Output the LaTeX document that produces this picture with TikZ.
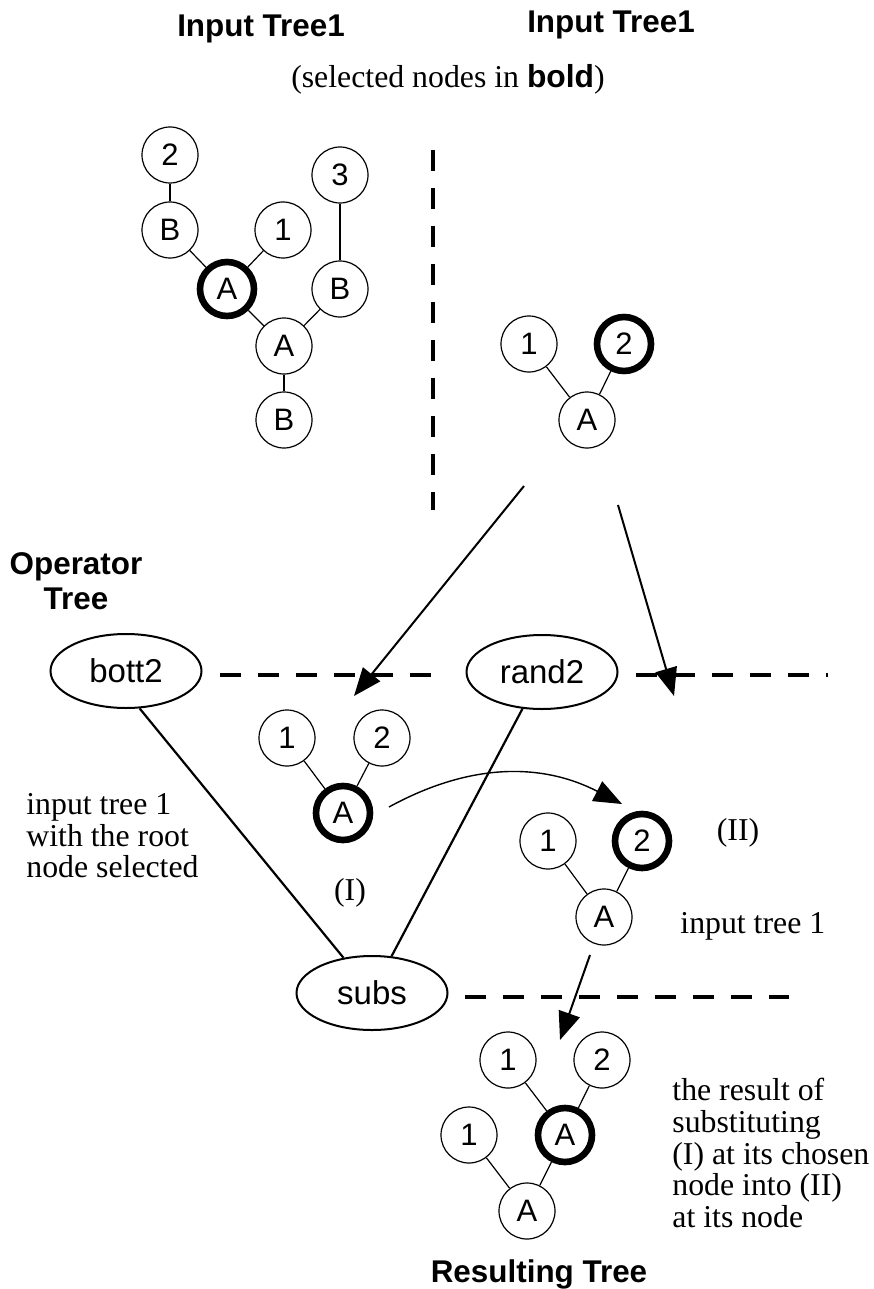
\documentclass[tikz,border=0pt]{standalone}
\usepackage{fontspec}
\setmainfont{Liberation Serif}
\setsansfont{Liberation Sans}
\usetikzlibrary{shapes.geometric,arrows.meta}

\begin{document}
\begin{tikzpicture}[x=0.5pt, y=-0.5pt,
    tnode/.style={circle, draw, line width=0.6pt, minimum size=28pt, inner sep=0pt, fill=white,
                  font=\sffamily\fontsize{15.5}{17}\selectfont},
    selnode/.style={tnode, line width=3.3pt, minimum size=27pt},
    opnode/.style={ellipse, draw, line width=1pt, minimum width=75.5pt, minimum height=37pt,
                   inner sep=0pt, fill=white, font=\sffamily\fontsize{16.5}{18}\selectfont},
    title/.style={font=\sffamily\bfseries\fontsize{15.7}{17.5}\selectfont, inner sep=0pt},
    note/.style={font=\rmfamily\fontsize{15.9}{15.8}\selectfont, align=left, inner sep=0pt},
    edge/.style={line width=0.6pt},
    opedge/.style={line width=1.1pt},
    sepline/.style={dash pattern=on 10.5pt off 8.5pt, line width=1.6pt},
    arr/.style={-{Triangle[length=14pt,width=11pt]}, line width=1pt}]
    \useasboundingbox (0,0) rectangle (873,1289);

    % Titles and notes
    \node[title, anchor=base] (ttlA) at (261,37) {Input Tree1};
    \node[title, anchor=base] (ttlB) at (611,33) {Input Tree1};
    \node[note, anchor=base] (selnote) at (448,88) {(selected nodes in {\sffamily\bfseries bold})};
    \node[title, align=center] (optitle) at (76,581) {Operator\\Tree};
    \node[title, anchor=base] (restitle) at (539,1282) {Resulting Tree};
    \node[note, anchor=west] (rootnote) at (26,836) {input tree 1\\with the root\\node selected};
    \node[note, anchor=base] (labI) at (350,900) {(I)};
    \node[note, anchor=base] (labII) at (738,840) {(II)};
    \node[note, anchor=base west] (treenote) at (680,933) {input tree 1};
    \node[note, anchor=west] (resnote) at (672,1153) {the result of\\substituting\\(I) at its chosen\\node into (II)\\at its node};

    % Dashed separators
    \coordinate (vtop) at (433,150);
    \coordinate (vbot) at (433,510);
    \coordinate (h1a) at (220,675);
    \coordinate (h1b) at (440,675);
    \coordinate (h1c) at (636,675);
    \coordinate (h1d) at (828,675);
    \coordinate (h2a) at (465,997);
    \coordinate (h2b) at (789,997);
    \draw[sepline] (vtop) -- (vbot);
    \draw[sepline] (h1a) -- (h1b);
    \draw[sepline] (h1c) -- (h1d);
    \draw[sepline] (h2a) -- (h2b);

    % First input tree
    \node[tnode] (ta2) at (170,155) {2};
    \node[tnode] (taB1) at (170,230) {B};
    \node[tnode] (ta1) at (283,230) {1};
    \node[selnode] (taA1) at (227,289) {A};
    \node[tnode] (ta3) at (340,175) {3};
    \node[tnode] (taB2) at (340,289) {B};
    \node[tnode] (taA2) at (284,346) {A};
    \node[tnode] (taB3) at (284,420) {B};
    \draw[edge] (ta2) -- (taB1);
    \draw[edge] (taB1) -- (taA1);
    \draw[edge] (taA1) -- (ta1);
    \draw[edge] (taA1) -- (taA2);
    \draw[edge] (taA2) -- (taB2);
    \draw[edge] (taB2) -- (ta3);
    \draw[edge] (taA2) -- (taB3);

    % Second input tree
    \node[tnode] (tb1) at (529,344) {1};
    \node[selnode] (tb2) at (624,344) {2};
    \node[tnode] (tbA) at (587,420) {A};
    \draw[edge] (tbA) -- (tb1);
    \draw[edge] (tbA) -- (tb2);

    % Operator tree
    \node[opnode] (bott) at (126,671) {bott2};
    \node[opnode] (rand) at (542,672) {rand2};
    \node[opnode] (subs) at (372,993) {subs};
    \draw[opedge] (bott.-70) -- (subs.129);
    \draw[opedge] (rand.-118) -- (subs.62);

    % Tree (I)
    \node[tnode] (i1) at (287,738) {1};
    \node[tnode] (i2) at (382,738) {2};
    \node[selnode] (iA) at (343,813) {A};
    \draw[edge] (iA) -- (i1);
    \draw[edge] (iA) -- (i2);

    % Tree (II)
    \node[tnode] (ii1) at (548,841) {1};
    \node[selnode] (ii2) at (642,841) {2};
    \node[tnode] (iiA) at (604,917) {A};
    \draw[edge] (iiA) -- (ii1);
    \draw[edge] (iiA) -- (ii2);

    % Resulting tree
    \node[tnode] (r1) at (508,1060) {1};
    \node[tnode] (r2) at (602,1060) {2};
    \node[selnode] (rA) at (565,1135) {A};
    \node[tnode] (rl1) at (469,1135) {1};
    \node[tnode] (rroot) at (527,1211) {A};
    \draw[edge] (rA) -- (r1);
    \draw[edge] (rA) -- (r2);
    \draw[edge] (rroot) -- (rl1);
    \draw[edge] (rroot) -- (rA);

    % Arrows
    \coordinate (a1s) at (524,486);
    \coordinate (a1e) at (354,696);
    \coordinate (a2s) at (618,505);
    \coordinate (a2e) at (674,696);
    \coordinate (a3s) at (590,955);
    \coordinate (a3e) at (560,1040);
    \coordinate (cs) at (389,807);
    \coordinate (ce) at (622,804);
    \draw[arr] (a1s) -- (a1e);
    \draw[arr] (a2s) -- (a2e);
    \draw[arr] (a3s) -- (a3e);
    \draw[arr, line width=0.7pt] (cs) to[bend left=28] (ce);

\end{tikzpicture}
\end{document}
